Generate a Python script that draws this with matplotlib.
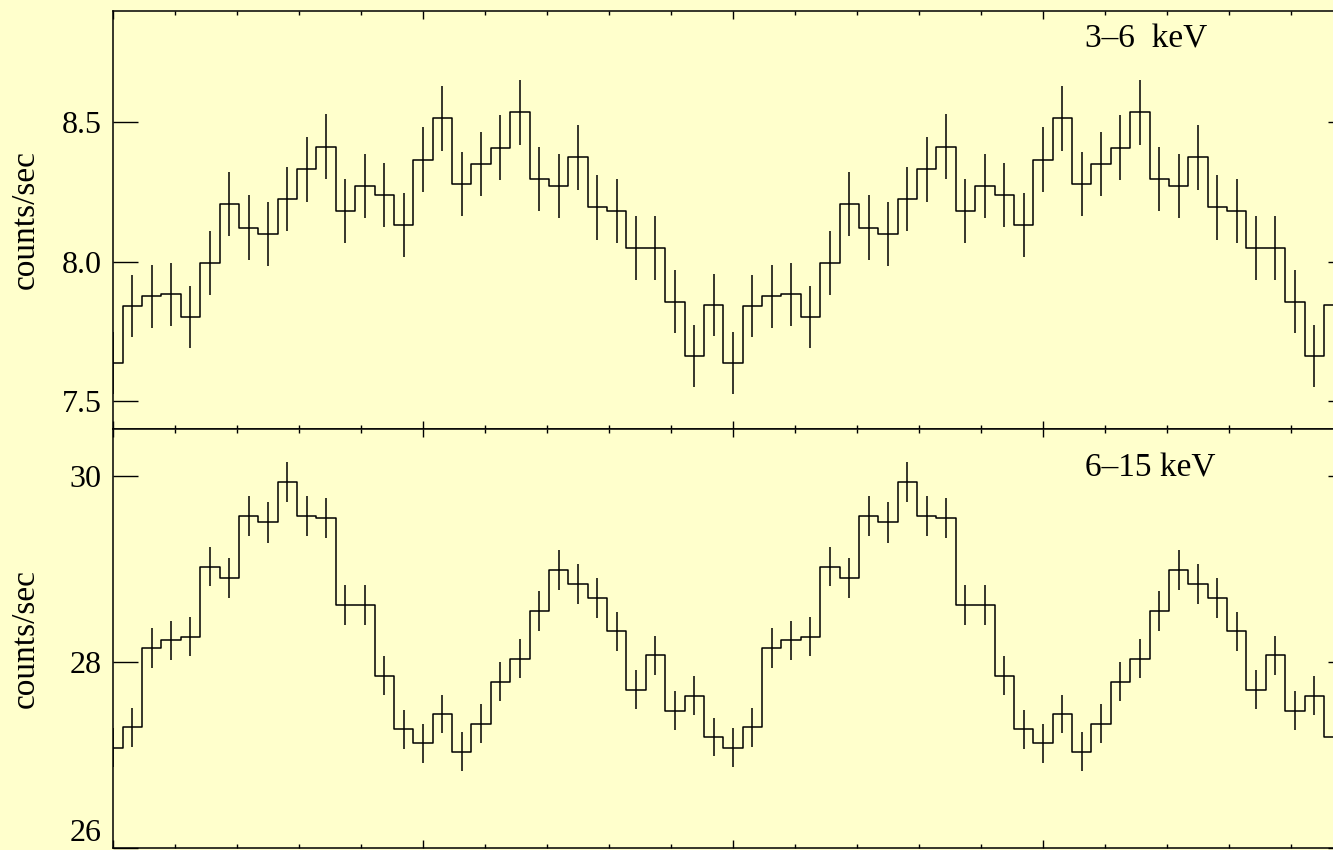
import numpy as np
import matplotlib
matplotlib.use("Agg")
import matplotlib.pyplot as plt
from matplotlib.ticker import MultipleLocator

plt.rcParams['font.family'] = ['Liberation Serif', 'DejaVu Serif']

# folded light curve, 32 phase bins per cycle
nbins = 32

soft_rate = [7.637, 7.842, 7.876, 7.883, 7.802, 7.996, 8.209, 8.123,
             8.101, 8.226, 8.332, 8.413, 8.183, 8.271, 8.239, 8.133,
             8.367, 8.515, 8.278, 8.350, 8.410, 8.536, 8.297, 8.271,
             8.375, 8.195, 8.183, 8.049, 8.050, 7.857, 7.662, 7.845]
soft_err = [0.111, 0.112, 0.113, 0.112, 0.112, 0.115, 0.115, 0.115,
            0.115, 0.115, 0.116, 0.116, 0.115, 0.115, 0.115, 0.115,
            0.116, 0.117, 0.115, 0.115, 0.116, 0.117, 0.116, 0.115,
            0.116, 0.115, 0.115, 0.114, 0.114, 0.112, 0.112, 0.113]

hard_rate = [27.077, 27.295, 28.147, 28.229, 28.269, 29.023, 28.898, 29.564,
             29.496, 29.929, 29.567, 29.542, 28.608, 28.610, 27.850, 27.274,
             27.124, 27.438, 27.034, 27.335, 27.785, 28.032, 28.544, 28.984,
             28.834, 28.687, 28.326, 27.700, 28.068, 27.474, 27.635, 27.191]
hard_err = [0.207, 0.208, 0.211, 0.211, 0.212, 0.214, 0.214, 0.216,
            0.216, 0.218, 0.216, 0.216, 0.213, 0.213, 0.210, 0.208,
            0.207, 0.208, 0.207, 0.208, 0.210, 0.211, 0.213, 0.214,
            0.214, 0.213, 0.212, 0.209, 0.211, 0.209, 0.209, 0.208]

bands = ["3\u20136  keV", "6\u201315 keV"]
ylims = [(7.4, 8.9), (26.0, 30.5)]
yticks = [[7.5, 8.0, 8.5], [26, 28, 30]]
yfmt = ["%.1f", "%d"]
label_y = [8.768, 29.99]

bg = '#ffffcc'


def two_cycles(vals):
    # show the profile twice, closing on the first bin at phase 2
    vals = np.asarray(vals)
    return np.concatenate([vals, vals, vals[:1]])


phase = np.arange(2 * nbins + 1) / nbins

fig = plt.figure(figsize=(13.33, 8.5), dpi=100, facecolor=bg)
W, H = 1333.0, 850.0
left = 113 / W
width = 1240 / W
ax_top = fig.add_axes([left, 1 - 429 / H, width, 418 / H])
ax_bot = fig.add_axes([left, 1 - 848 / H, width, 419 / H])

panels = [(ax_top, soft_rate, soft_err), (ax_bot, hard_rate, hard_err)]
for i, (ax, rate, err) in enumerate(panels):
    ax.set_facecolor(bg)
    r = two_cycles(rate)
    e = two_cycles(err)
    ax.step(phase, r, where='mid', color='k', lw=1.1)
    ax.errorbar(phase, r, yerr=e, fmt='none', ecolor='k', elinewidth=1.1, capsize=0)

    ax.set_xlim(0, 2)
    ax.set_ylim(*ylims[i])
    ax.xaxis.set_major_locator(MultipleLocator(0.5))
    ax.xaxis.set_minor_locator(MultipleLocator(0.1))
    ax.set_yticks(yticks[i])
    ax.set_yticklabels([yfmt[i] % v for v in yticks[i]])
    ax.set_xticklabels([])
    ax.tick_params(axis='x', which='major', direction='in', length=6, width=1,
                   top=True, bottom=True, labelbottom=False)
    ax.tick_params(axis='x', which='minor', direction='in', length=3, width=1,
                   top=True, bottom=True)
    ax.tick_params(axis='y', which='major', direction='in', length=18, width=1,
                   left=True, right=True, labelsize=23, pad=8)
    for s in ax.spines.values():
        s.set_linewidth(1.1)

    ax.text(-0.0702, 0.5, "counts/sec", transform=ax.transAxes, rotation=90,
            ha='center', va='center', fontsize=24)
    ax.text(1.5677, label_y[i], bands[i], ha='left', va='baseline', fontsize=24)

# lowest label sits on top of its tick so it stays inside the figure
ax_bot.yaxis.get_major_ticks()[0].label1.set_verticalalignment('bottom')

plt.savefig("out.png", dpi=100, facecolor=bg)
